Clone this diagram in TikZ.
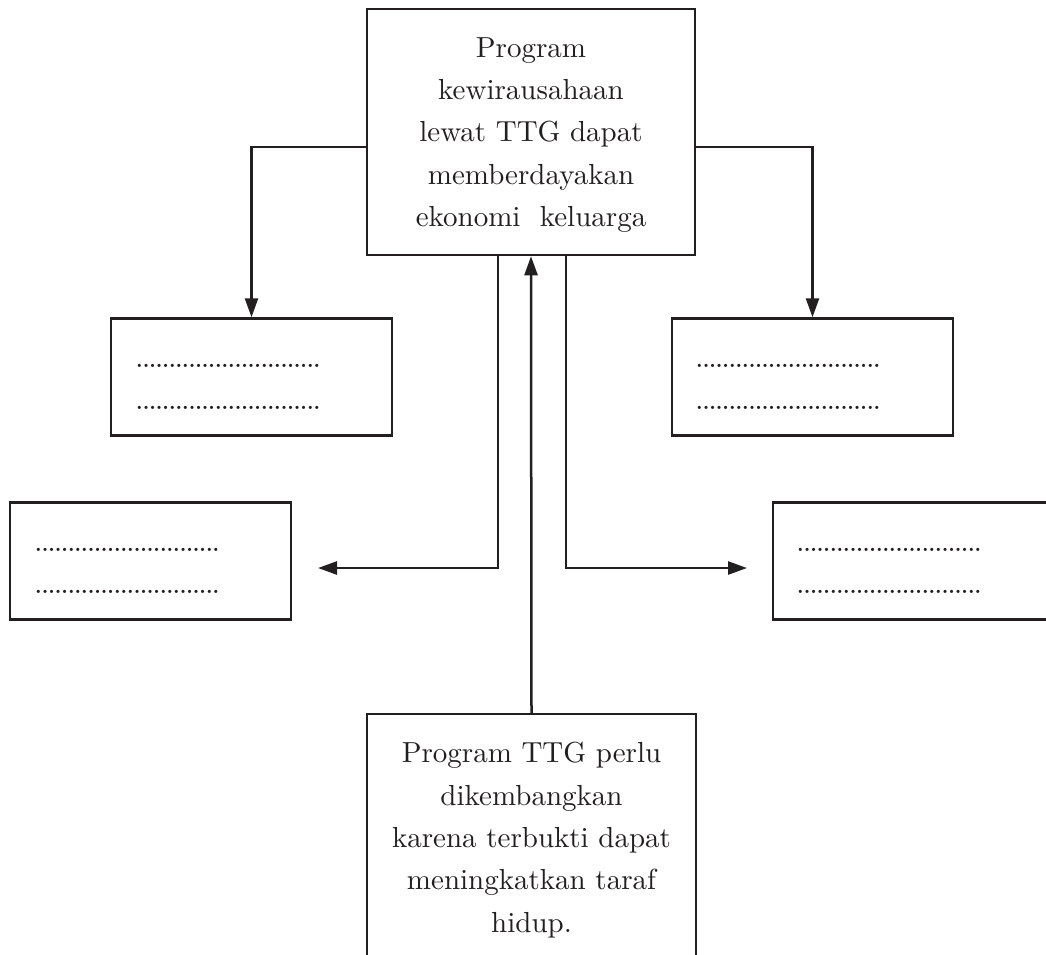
\documentclass[tikz,border=0pt]{standalone}
\usepackage{fontspec}
\setmainfont{lmroman10-regular.otf}[BoldFont=lmroman10-bold.otf]
\usetikzlibrary{arrows.meta}
\definecolor{ink}{RGB}{35,31,32}
\newcommand\dotrow{............................}
\begin{document}
\begin{tikzpicture}[x=1pt,y=-1pt,
  box/.style={draw=ink, line width=2.5pt, inner sep=0pt, rectangle},
  smallbox/.style={box, minimum width=281pt, minimum height=117pt},
  bigbox/.style={box, minimum width=328pt, minimum height=246pt},
  txt/.style={align=center, text=ink, inner sep=0pt, font=\fontsize{29}{42.3}\selectfont},
  dotline/.style={text=ink, font=\fontsize{20.6}{28}\selectfont\bfseries, inner sep=0pt, anchor=base west},
  arr/.style={draw=ink, line width=2.5pt, -{Triangle[length=19pt,width=13pt]}}]
\useasboundingbox (0,0) rectangle (1046,954);
\clip (0,0) rectangle (1046,954);
\fill[white] (0,0) rectangle (1046,954);
% boxes
\node[bigbox] (top) at (531,132) {};
\node[txt] (toptxt) at (531,135) {Program\\kewirausahaan\\lewat TTG dapat\\memberdayakan\\ekonomi~ keluarga};
\node[smallbox] (ul) at (251.5,377) {};
\node[smallbox] (ur) at (812.5,377) {};
\node[smallbox] (ll) at (150.5,561) {};
\node[smallbox] (lr) at (913.5,561) {};
\node[bigbox, minimum width=329pt] (bot) at (531.5,837) {};
\node[txt] (bottxt) at (531.5,840) {Program TTG perlu\\dikembangkan\\karena terbukti dapat\\meningkatkan taraf\\hidup.};
% dotted answer lines
\node[dotline] (ul1) at (136,367.5) {\dotrow};
\node[dotline] (ul2) at (136,409.5) {\dotrow};
\node[dotline] (ur1) at (696,367.5) {\dotrow};
\node[dotline] (ur2) at (696,409.5) {\dotrow};
\node[dotline] (ll1) at (35,551.5) {\dotrow};
\node[dotline] (ll2) at (35,593.5) {\dotrow};
\node[dotline] (lr1) at (797,551.5) {\dotrow};
\node[dotline] (lr2) at (797,593.5) {\dotrow};
% connectors
\coordinate (lt) at (318,568);
\coordinate (rt) at (747,568);
\draw[arr] ([yshift=-15pt]top.west) -| (ul.north);
\draw[arr] ([yshift=-15pt]top.east) -| (ur.north);
\draw[arr] ([xshift=-33pt]top.south) |- (lt);
\draw[arr] ([xshift=35pt]top.south) |- (rt);
\draw[arr] (bot.north) -- (top.south);
\end{tikzpicture}
\end{document}
